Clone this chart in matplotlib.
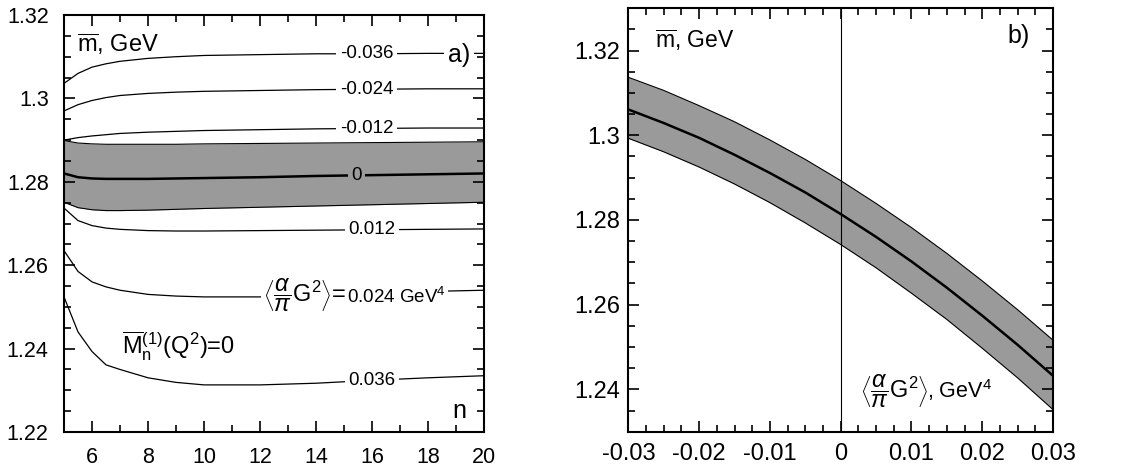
import numpy as np
import matplotlib
matplotlib.use("Agg")
from matplotlib import pyplot as plt
from matplotlib.ticker import MultipleLocator, FormatStrFormatter

plt.rcParams['font.family'] = ['Liberation Sans', 'DejaVu Sans']
plt.rcParams['mathtext.fontset'] = 'custom'
plt.rcParams['mathtext.rm'] = 'Liberation Sans'
plt.rcParams['mathtext.it'] = 'Liberation Sans:italic'
plt.rcParams['axes.unicode_minus'] = False

# a) running mass vs n for several gluon condensate values
n = [5, 5.5, 6, 6.5, 7, 8, 9, 10, 12, 14, 16, 18, 20]
m_m036 = [1.3036, 1.3060, 1.3075, 1.3083, 1.3089, 1.3096, 1.3100, 1.3103, 1.3105, 1.3107, 1.3107, 1.3108, 1.3108]
m_m024 = [1.2970, 1.2985, 1.2995, 1.3002, 1.3007, 1.3012, 1.3015, 1.3017, 1.3019, 1.3021, 1.3022, 1.3023, 1.3023]
m_m012 = [1.2900, 1.2906, 1.2910, 1.2913, 1.2916, 1.2919, 1.2921, 1.2923, 1.2925, 1.2927, 1.2928, 1.2929, 1.2929]
m_0 = [1.2820, 1.2811, 1.2808, 1.2807, 1.2807, 1.2807, 1.2808, 1.2809, 1.2811, 1.2814, 1.2816, 1.2818, 1.2820]
m_0_hi = [1.2899, 1.2893, 1.2891, 1.2890, 1.2890, 1.2890, 1.2890, 1.2891, 1.2892, 1.2893, 1.2894, 1.2895, 1.2896]
m_0_lo = [1.2751, 1.2738, 1.2733, 1.2731, 1.2731, 1.2732, 1.2734, 1.2736, 1.2739, 1.2742, 1.2745, 1.2748, 1.2751]
m_p012 = [1.2737, 1.2707, 1.2695, 1.2689, 1.2686, 1.2683, 1.2682, 1.2682, 1.2683, 1.2684, 1.2685, 1.2686, 1.2687]
m_p024 = [1.2635, 1.2585, 1.2560, 1.2548, 1.2540, 1.2530, 1.2526, 1.2524, 1.2524, 1.2527, 1.2532, 1.2537, 1.2540]
m_p036 = [1.2524, 1.2440, 1.2393, 1.2361, 1.2350, 1.2330, 1.2319, 1.2313, 1.2313, 1.2317, 1.2324, 1.2330, 1.2335]

# b) running mass vs gluon condensate
g2 = [-0.03, -0.025, -0.02, -0.015, -0.01, -0.005, 0.0,
      0.005, 0.01, 0.015, 0.02, 0.025, 0.03]
mb_c = [1.3061, 1.3029, 1.2994, 1.2954, 1.2911, 1.2865, 1.2814,
        1.2760, 1.2702, 1.2640, 1.2574, 1.2505, 1.2432]
mb_hi = [1.3137, 1.3106, 1.3070, 1.3032, 1.2989, 1.2943, 1.2893,
         1.2839, 1.2782, 1.2721, 1.2656, 1.2588, 1.2516]
mb_lo = [1.2993, 1.2961, 1.2925, 1.2885, 1.2841, 1.2793, 1.2742,
         1.2687, 1.2627, 1.2565, 1.2497, 1.2427, 1.2352]

band = '#9a9a9a'
G2 = r'$\left\langle\dfrac{\alpha}{\pi}\mathrm{G}^2\right\rangle$'
MBAR = r'$\overline{\mathrm{m}}$, GeV'
white = dict(facecolor='white', edgecolor='none', pad=1.5)

fig = plt.figure(figsize=(11.21, 4.75), dpi=100)
ax1 = fig.add_axes([0.0571, 0.0905, 0.3747, 0.8779])
ax2 = fig.add_axes([0.5605, 0.0912, 0.3789, 0.8914])


def style(ax, size):
    for s in ax.spines.values():
        s.set_linewidth(1.5)
    ax.tick_params(which='both', direction='in', top=True, right=True,
                   labelsize=size, width=1.2)
    ax.tick_params(which='major', length=8)
    ax.tick_params(which='minor', length=5)


# panel a
ax1.fill_between(n, m_0_lo, m_0_hi, color=band, lw=0)
ax1.plot(n, m_0_hi, color='k', lw=0.8)
ax1.plot(n, m_0_lo, color='k', lw=0.8)
ax1.plot(n, m_0, color='k', lw=1.8)
for m in [m_m036, m_m024, m_m012, m_p012, m_p024, m_p036]:
    ax1.plot(n, m, color='k', lw=0.9)

labels = [(15.8, 1.3107, '-0.036', 'white'),
          (15.8, 1.3022, '-0.024', 'white'),
          (15.8, 1.2928, '-0.012', 'white'),
          (15.45, 1.2815, '0', band),
          (16.0, 1.2685, '0.012', 'white'),
          (16.0, 1.2324, '0.036', 'white')]
for x, y, t, bg in labels:
    ax1.text(x, y, t, fontsize=13.5, ha='center', va='center',
             bbox=dict(facecolor=bg, edgecolor='none', pad=2.5))

ax1.text(15.08, 1.2510, G2 + '=', fontsize=17, ha='right', va='baseline',
         bbox=white)
ax1.text(15.12, 1.2510, '0.024 GeV$^4$', fontsize=13.5, ha='left',
         va='baseline', bbox=white)
ax1.text(0.137, 0.186, r'$\overline{\mathrm{M}}_\mathrm{n}^{(1)}(\mathrm{Q}^2)$=0',
         fontsize=17, transform=ax1.transAxes, ha='left', va='baseline')
ax1.text(0.030, 0.912, MBAR, fontsize=17, transform=ax1.transAxes,
         ha='left', va='baseline')
ax1.text(0.967, 0.888, 'a)', fontsize=18, transform=ax1.transAxes,
         ha='right', va='baseline',
         bbox=dict(facecolor='white', edgecolor='none', pad=3))
ax1.text(0.959, 0.033, 'n', fontsize=18, transform=ax1.transAxes,
         ha='right', va='baseline')

ax1.set_xlim(5, 20)
ax1.set_ylim(1.22, 1.32)
ax1.xaxis.set_major_locator(MultipleLocator(2))
ax1.xaxis.set_minor_locator(MultipleLocator(1))
ax1.yaxis.set_major_locator(MultipleLocator(0.02))
ax1.yaxis.set_minor_locator(MultipleLocator(0.005))
ax1.yaxis.set_major_formatter(FormatStrFormatter('%g'))
style(ax1, 15.5)
ax1.tick_params(axis='y', pad=11)
ax1.tick_params(axis='x', pad=11)

# panel b
ax2.fill_between(g2, mb_lo, mb_hi, color=band, lw=0)
ax2.plot(g2, mb_hi, color='k', lw=0.8)
ax2.plot(g2, mb_lo, color='k', lw=0.8)
ax2.plot(g2, mb_c, color='k', lw=1.8)
ax2.axvline(0, color='k', lw=0.8)

ax2.text(0.063, 0.906, MBAR, fontsize=16.5, transform=ax2.transAxes,
         ha='left', va='baseline')
ax2.text(0.946, 0.917, 'b)', fontsize=18, transform=ax2.transAxes,
         ha='right', va='baseline')
ax2.text(0.545, 0.079, G2, fontsize=17, transform=ax2.transAxes,
         ha='left', va='baseline')
ax2.text(0.703, 0.079, ', GeV$^4$', fontsize=15.5, transform=ax2.transAxes,
         ha='left', va='baseline')

ax2.set_xlim(-0.03, 0.03)
ax2.set_ylim(1.23, 1.33)
ax2.xaxis.set_major_locator(MultipleLocator(0.01))
ax2.xaxis.set_minor_locator(MultipleLocator(0.0025))
ax2.yaxis.set_minor_locator(MultipleLocator(0.005))
ax2.set_yticks([1.24, 1.26, 1.28, 1.30, 1.32])
ax2.xaxis.set_major_formatter(FormatStrFormatter('%g'))
ax2.yaxis.set_major_formatter(FormatStrFormatter('%g'))
style(ax2, 17)
ax2.tick_params(axis='y', pad=6)
ax2.tick_params(axis='x', pad=8)

fig.savefig('out.png', dpi=100)
